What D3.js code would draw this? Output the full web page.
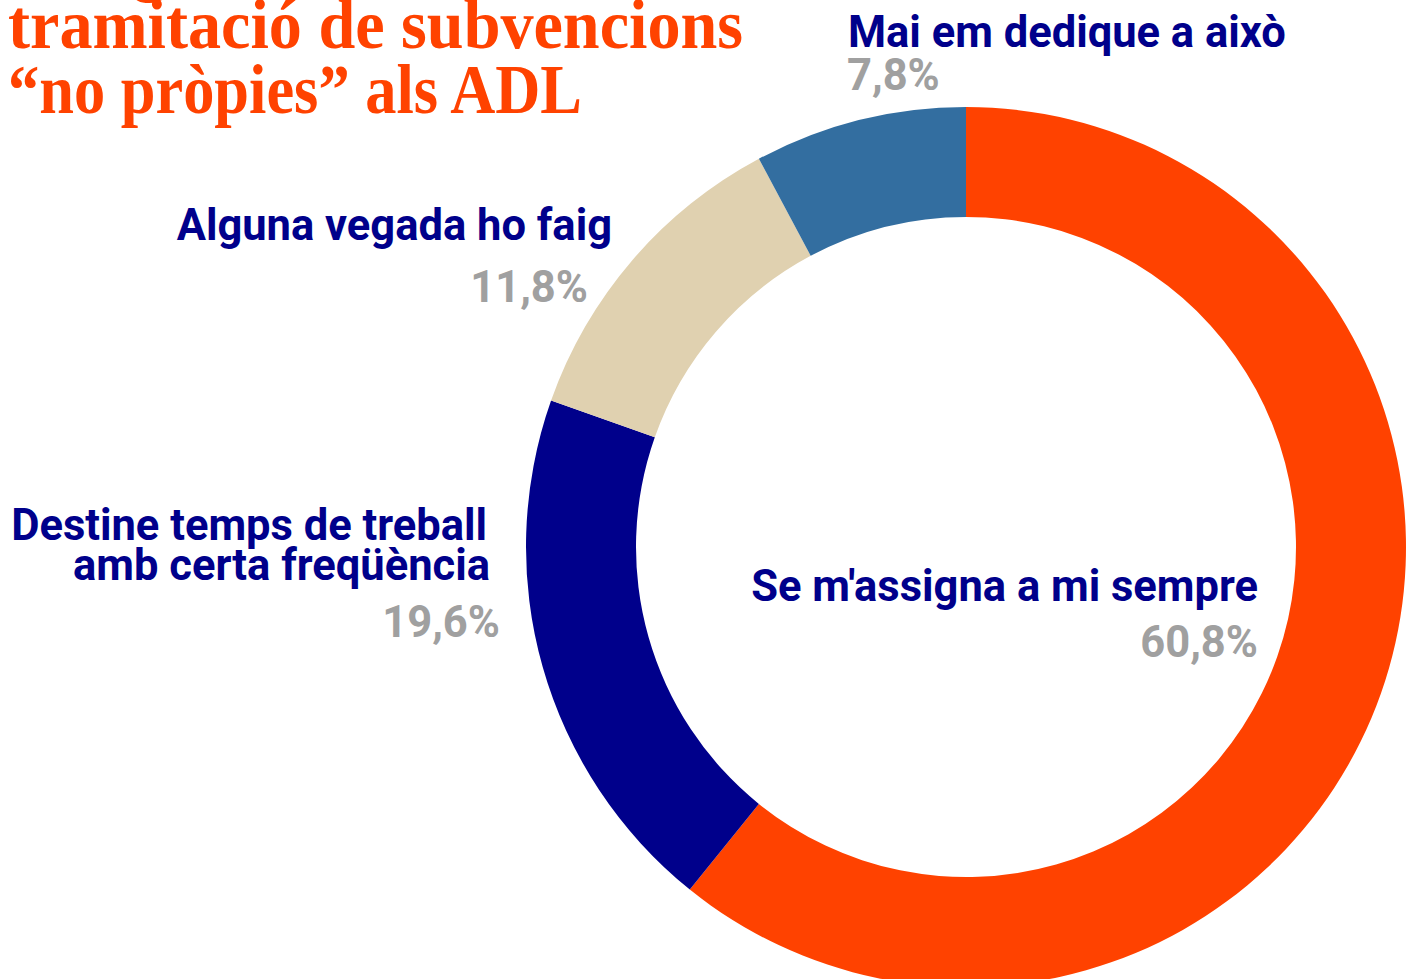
<!DOCTYPE html>
<html>
<head>
<meta charset="utf-8">
<script src="https://cdn.jsdelivr.net/npm/d3@7"></script>
<style>
  body { margin: 0; background: #fff; }
  svg { display: block; }
</style>
</head>
<body>
<svg id="chart" width="1413" height="979"></svg>
<script>
// data
const categories = ["Se m'assigna a mi sempre", "Destine temps de treball\namb certa freqüència", "Alguna vegada ho faig", "Mai em dedique a això"];
const values = [60.8, 19.6, 11.8, 7.8];
const sliceColors = ["#ff4200", "#00008b", "#e0d1b0", "#336ea0"];
const titleLines = ["Assignació de la", "tramitació de subvencions", "“no pròpies” als ADL"];

const svg = d3.select("#chart"),
      cx = 966, cy = 547,
      outerR = 440, innerR = 330;

svg.append("rect").attr("width", 1413).attr("height", 979).attr("fill", "#fff");

const locale = d3.formatLocale({decimal: ",", thousands: ".", grouping: [3], currency: ["", "€"]});
const fmt = v => locale.format(".1f")(v) + "%";

// donut
const pie = d3.pie().sort(null).value(d => d)(values);
const arc = d3.arc().innerRadius(innerR).outerRadius(outerR);

const g = svg.append("g").attr("transform", `translate(${cx},${cy})`);

g.selectAll("path")
 .data(pie)
 .enter()
 .append("path")
 .attr("d", arc)
 .attr("fill", (d, i) => sliceColors[i]);

// label placement, relative to the donut centre
const labelPos = [
  {lx: 292, ly: 54, px: 292, py: 110, anchor: "end"},
  {lx: -476, ly: -7, px: -466, py: 90, anchor: "end"},
  {lx: -354, ly: -307, px: -378, py: -245, anchor: "end"},
  {lx: -118, ly: -500, px: -119, py: -457, anchor: "start"}
];

categories.forEach((cat, i) => {
  const p = labelPos[i];
  const lines = cat.split("\n");
  const t = g.append("text")
    .attr("text-anchor", p.anchor)
    .style("font-family", "Roboto, sans-serif")
    .style("font-weight", 700)
    .style("font-size", "43.5px")
    .style("fill", "#00008b");
  lines.forEach((line, j) => {
    t.append("tspan")
     .attr("x", p.lx + (lines.length > 1 && j === 0 ? -3 : 0))
     .attr("y", p.ly + j * 40)
     .text(line);
  });
  g.append("text")
   .attr("x", p.px)
   .attr("y", p.py)
   .attr("text-anchor", p.anchor)
   .style("font-family", "Roboto, sans-serif")
   .style("font-weight", 700)
   .style("font-size", "43.5px")
   .style("fill", "#a0a0a0")
   .text(fmt(values[i]));
});

// title (top line is cut off in the original)
const titleW = [null, 735, 574];
titleLines.forEach((line, i) => {
  const t = svg.append("text")
    .attr("x", 8)
    .attr("y", -12 + i * 61 + (i > 0 ? -1 : 0) + (i === 2 ? 4 : 0))
    .style("font-family", "'Liberation Serif', serif")
    .style("font-weight", 700)
    .style("font-size", "70px")
    .style("fill", "#ff4200")
    .text(line);
  if (titleW[i]) t.attr("textLength", titleW[i]).attr("lengthAdjust", "spacingAndGlyphs");
});
</script>
</body>
</html>
